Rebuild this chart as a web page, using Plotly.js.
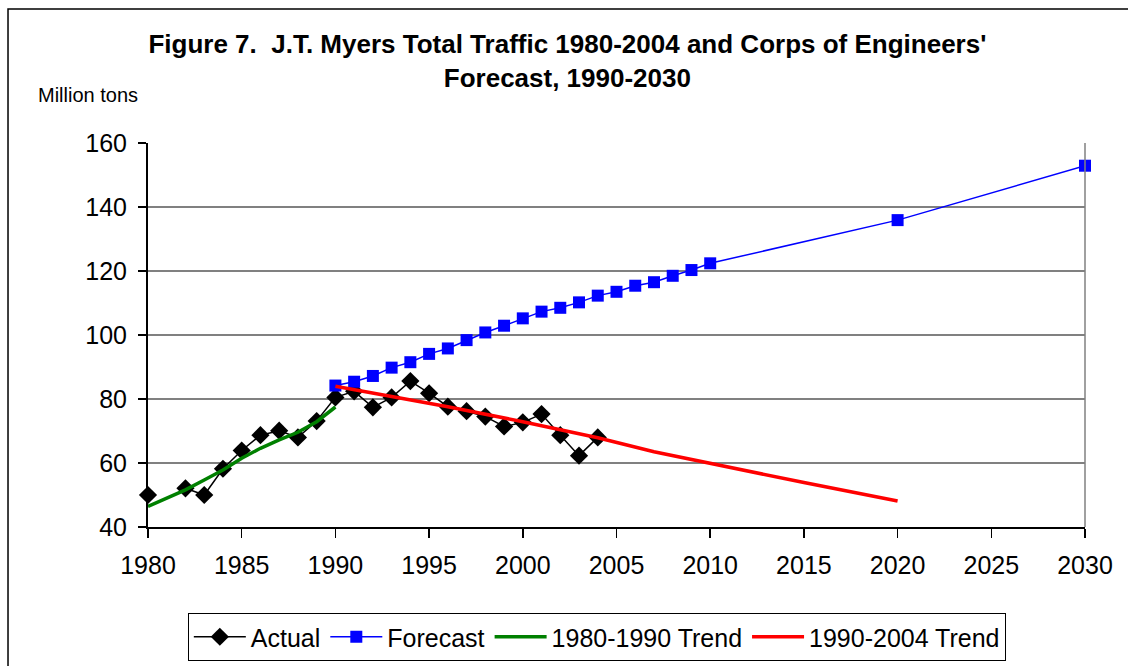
<!DOCTYPE html>
<html>
<head>
<meta charset="utf-8">
<script src="https://cdn.plot.ly/plotly-3.0.1.min.js"></script>
<style>
html,body{margin:0;padding:0;background:#fff;}
#chart{width:1128px;height:666px;}
</style>
</head>
<body>
<div id="chart"></div>
<script>
// Actual traffic (million tons); 1981 missing
const actualYears = [1980,1981,1982,1983,1984,1985,1986,1987,1988,1989,1990,1991,1992,1993,1994,1995,1996,1997,1998,1999,2000,2001,2002,2003,2004];
const actualValues = [50.0,null,52.1,50.0,58.2,63.9,68.7,70.1,68.0,73.1,80.5,82.4,77.4,80.5,85.6,81.8,77.6,76.2,74.5,71.4,72.7,75.3,68.7,62.3,68.0];

// Corps of Engineers forecast
const forecastYears = [1990,1991,1992,1993,1994,1995,1996,1997,1998,1999,2000,2001,2002,2003,2004,2005,2006,2007,2008,2009,2010,2020,2030];
const forecastValues = [84.2,85.4,87.2,89.8,91.5,94.1,95.8,98.4,100.8,102.9,105.2,107.3,108.5,110.2,112.3,113.5,115.4,116.5,118.5,120.3,122.4,135.9,152.9];

// 1980-1990 trend
const trend1Years = [1980,1981,1982,1983,1984,1985,1986,1987,1988,1989,1990];
const trend1Values = [46.4,49.0,51.6,54.7,57.8,61.5,64.6,67.2,69.6,72.9,77.5];

// 1990-2004 trend (extended to 2020)
const trend2Years = [1990,1996,2000,2004,2007,2010,2015,2020];
const trend2Values = [84.0,77.6,72.9,67.9,63.5,59.8,53.9,48.1];

const seriesNames = ['Actual','Forecast','1980-1990 Trend','1990-2004 Trend'];
const titleText = "Figure 7.  J.T. Myers Total Traffic 1980-2004 and Corps of Engineers'<br>Forecast, 1990-2030";
const yLabel = 'Million tons';
const xTicks = [1980,1985,1990,1995,2000,2005,2010,2015,2020,2025,2030];
const yTicks = [40,60,80,100,120,140,160];

const font = 'Arial, "Liberation Sans", sans-serif';

const traces = [
  {x: actualYears, y: actualValues, name: seriesNames[0], type: 'scatter', mode: 'lines+markers',
   connectgaps: false, cliponaxis: false,
   line: {color: '#000000', width: 1.5},
   marker: {symbol: 'diamond', size: 14, color: '#000000'}},
  {x: forecastYears, y: forecastValues, name: seriesNames[1], type: 'scatter', mode: 'lines+markers',
   cliponaxis: false,
   line: {color: '#0000FF', width: 1.5},
   marker: {symbol: 'square', size: 12, color: '#0000FF'}},
  {x: trend1Years, y: trend1Values, name: seriesNames[2], type: 'scatter', mode: 'lines',
   line: {color: '#008000', width: 3.5}},
  {x: trend2Years, y: trend2Values, name: seriesNames[3], type: 'scatter', mode: 'lines',
   line: {color: '#FF0000', width: 3.5}}
];

const layout = {
  width: 1128, height: 666,
  margin: {l: 148, r: 43, t: 143, b: 139, autoexpand: false},
  paper_bgcolor: '#ffffff', plot_bgcolor: '#ffffff',
  font: {family: font, color: '#000000', size: 24},
  showlegend: true,
  title: {text: titleText, font: {family: font, size: 26, color: '#000000', weight: 'bold'},
          xref: 'container', x: 0.503, xanchor: 'center',
          yref: 'container', y: 0.92, yanchor: 'middle'},
  xaxis: {range: [1980, 2030], tickvals: xTicks, ticktext: xTicks.map(String), automargin: false,
          showgrid: false, zeroline: false, showline: true, linecolor: '#000000', linewidth: 2,
          ticks: 'outside', ticklen: 9, tickcolor: '#000000', tickwidth: 1.5,
          ticklabelstandoff: 6,
          tickfont: {size: 25, family: font, color: '#000000'}, mirror: false},
  yaxis: {range: [40, 160], tickvals: yTicks, ticktext: yTicks.map(String), automargin: false,
          showgrid: true, gridcolor: '#808080', gridwidth: 1.2, zeroline: false,
          showline: true, linecolor: '#000000', linewidth: 2,
          ticks: 'outside', ticklen: 8, tickcolor: '#000000', tickwidth: 1.5,
          ticklabelstandoff: 6,
          tickfont: {size: 25, family: font, color: '#000000'}},
  legend: {orientation: 'h', x: 0.479, xanchor: 'center', y: -0.224, yanchor: 'top',
           bordercolor: '#000000', borderwidth: 1, bgcolor: '#ffffff',
           font: {size: 25, family: font, color: '#000000'},
           traceorder: 'normal', itemwidth: 52},
  annotations: [
    {text: yLabel, xref: 'paper', yref: 'paper', x: -0.12, y: 1.125, xanchor: 'left', yanchor: 'middle',
     showarrow: false, font: {size: 20, family: font, color: '#000000'}}
  ],
  shapes: [
    {type: 'line', xref: 'paper', yref: 'paper', x0: 1, x1: 1, y0: 0, y1: 1, line: {color: '#808080', width: 1.5}},
    {type: 'rect', xref: 'paper', yref: 'paper', x0: -0.1494, x1: 1.2, y0: -0.5, y1: 1.349,
     line: {color: '#000000', width: 1.5}, layer: 'below'}
  ]
};

Plotly.newPlot('chart', traces, layout, {staticPlot: true, displayModeBar: false});
</script>
</body>
</html>
